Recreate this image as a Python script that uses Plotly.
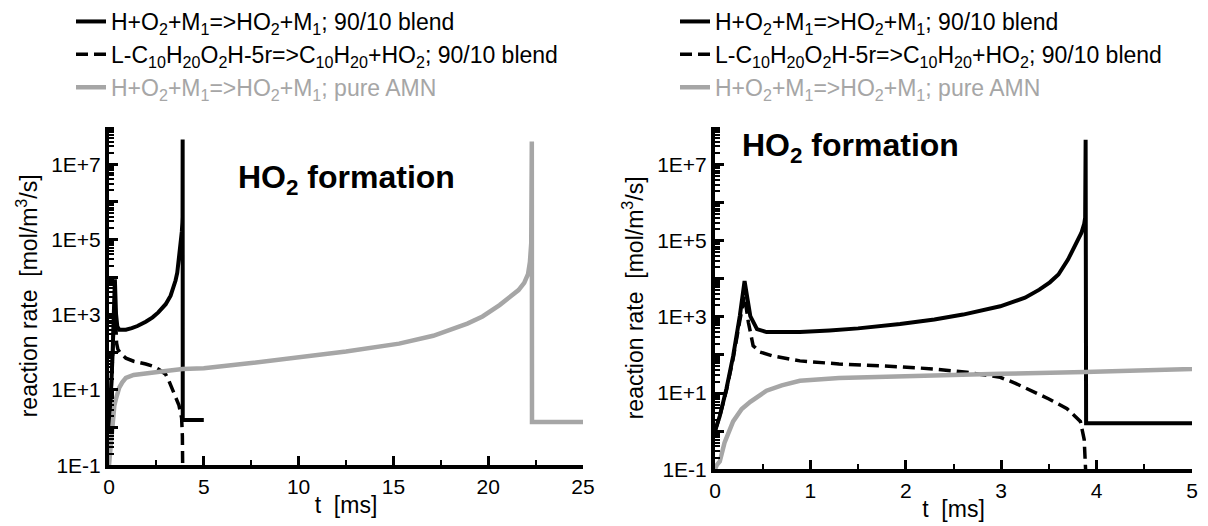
import plotly.graph_objects as go

# ---------------- data ----------------
# 90/10 blend, H+O2+M1=>HO2+M1  (t in ms, rate in mol/m3/s)
T_HO2_BLEND = [0, 0.05, 0.12, 0.19, 0.26, 0.31, 0.37, 0.44, 0.54, 0.7, 0.89, 1.2, 1.5,
               1.94, 2.3, 2.6, 2.99, 3.25, 3.4, 3.51, 3.6, 3.7, 3.75, 3.8, 3.84, 3.87,
               3.88, 3.885, 3.89, 5.0]
R_HO2_BLEND = [1.0, 2.5, 13, 93, 1050, 8700, 1050, 480, 400, 390, 400, 440, 500,
               650, 850, 1150, 1900, 3200, 5200, 8100, 1.3e4, 3.2e4, 5.9e4, 1.0e5, 1.6e5, 2.8e5,
               4.0e5, 4.5e7, 1.6, 1.6]

# 90/10 blend, L-C10H20O2H-5r=>C10H20+HO2
T_DECOMP_BLEND = [0, 0.05, 0.12, 0.19, 0.26, 0.31, 0.35, 0.40, 0.47, 0.6, 0.89, 1.3, 1.94,
                  2.29, 2.64, 2.99, 3.15, 3.33, 3.5, 3.69, 3.83, 3.87, 3.89]
R_DECOMP_BLEND = [1.0, 2.5, 12, 80, 800, 3500, 720, 175, 120, 95, 70, 58, 49,
                  43, 35, 26, 18, 11, 7, 3.9, 1.8, 0.6, 0.05]

# pure AMN, H+O2+M1=>HO2+M1
T_HO2_AMN = [0, 0.02, 0.05, 0.1, 0.19, 0.28, 0.37, 0.54, 0.7, 0.89, 1.3, 1.94, 2.99, 3.88,
             5.0, 7.5, 10.0, 12.5, 15.3, 17.1, 18.9, 19.7, 20.6, 21.2, 21.6, 21.9, 22.1,
             22.2, 22.27, 22.3, 22.31, 25.0]
R_HO2_AMN = [0.1, 0.13, 0.16, 0.5, 1.8, 3.8, 5.9, 11.5, 16, 21, 25, 28, 32, 36,
             38, 52, 72, 105, 170, 275, 580, 900, 1800, 3000, 4500, 7000, 1.2e4,
             2.5e4, 8.0e4, 4.0e7, 1.4, 1.4]

LEG_BLEND_HO2 = "H+O<sub>2</sub>+M<sub>1</sub>=>HO<sub>2</sub>+M<sub>1</sub>; 90/10 blend"
LEG_BLEND_DEC = ("L-C<sub>10</sub>H<sub>20</sub>O<sub>2</sub>H-5r=>C<sub>10</sub>H<sub>20</sub>"
                 "+HO<sub>2</sub>; 90/10 blend")
LEG_AMN_HO2 = ('<span style="color:#a6a6a6">H+O<sub>2</sub>+M<sub>1</sub>=>HO<sub>2</sub>'
               '+M<sub>1</sub>; pure AMN</span>')

Y_TICK_VALS = [1e-1, 1e0, 1e1, 1e2, 1e3, 1e4, 1e5, 1e6, 1e7, 1e8]
Y_TICK_TEXT = ["1E-1", "", "1E+1", "", "1E+3", "", "1E+5", "", "1E+7", ""]
X_LEFT_TICKS = [0, 5, 10, 15, 20, 25]
X_RIGHT_TICKS = [0, 1, 2, 3, 4, 5]

FONT = "Liberation Sans, Arial, sans-serif"
GRAY = "#a6a6a6"

fig = go.Figure()

def add_panel(xa, ya, leg):
    fig.add_trace(go.Scatter(x=T_HO2_BLEND, y=R_HO2_BLEND, mode="lines", name=LEG_BLEND_HO2,
                             line=dict(color="black", width=4), xaxis=xa, yaxis=ya,
                             legend=leg, legendgroup=leg + "a", legendrank=1))
    fig.add_trace(go.Scatter(x=T_DECOMP_BLEND, y=R_DECOMP_BLEND, mode="lines", name=LEG_BLEND_DEC,
                             line=dict(color="black", width=3.5, dash="12px,6px"), xaxis=xa, yaxis=ya,
                             legend=leg, legendgroup=leg + "b", legendrank=2))
    fig.add_trace(go.Scatter(x=T_HO2_AMN, y=R_HO2_AMN, mode="lines", name=LEG_AMN_HO2,
                             line=dict(color=GRAY, width=4.5), xaxis=xa, yaxis=ya,
                             legend=leg, legendgroup=leg + "c", legendrank=3))

add_panel("x", "y", "legend")
add_panel("x2", "y2", "legend2")

minor_y = [m * 10.0 ** d for d in range(-1, 8) for m in range(2, 10)]

W, H = 1208, 526

def yaxis(top_px, bot_px, anchor):
    return dict(type="log", range=[-1, 8], domain=[(H - bot_px) / H, (H - top_px) / H],
                anchor=anchor, showline=True, linewidth=4, linecolor="black", mirror=False,
                showgrid=False, zeroline=False, ticks="inside", ticklen=9, tickwidth=3,
                tickcolor="black", tickmode="array", tickvals=Y_TICK_VALS, ticktext=Y_TICK_TEXT,
                minor=dict(ticks="inside", ticklen=5, tickwidth=2, tickcolor="black",
                           tickmode="array", tickvals=minor_y, showgrid=False),
                tickfont=dict(family=FONT, size=21, color="black"),
                title=dict(text="reaction rate\u00a0 [mol/m<sup>3</sup>/s]",
                           font=dict(family=FONT, size=23, color="black"), standoff=8),
                automargin=False)

def xaxis(l_px, r_px, rng, ticks, dminor, anchor):
    return dict(range=rng, domain=[l_px / W, r_px / W], anchor=anchor,
                showline=True, linewidth=4, linecolor="black", showgrid=False, zeroline=False,
                ticks="inside", ticklen=9, tickwidth=3, tickcolor="black",
                tickmode="array", tickvals=ticks,
                minor=dict(ticks="inside", ticklen=5, tickwidth=2, tickcolor="black",
                           dtick=dminor, showgrid=False),
                tickfont=dict(family=FONT, size=21, color="black"),
                title=dict(text="t\u00a0 [ms]", font=dict(family=FONT, size=23, color="black"),
                           standoff=0),
                automargin=False)

fig.update_layout(
    width=W, height=H,
    margin=dict(l=0, r=0, t=0, b=0),
    paper_bgcolor="white", plot_bgcolor="white",
    font=dict(family=FONT, color="black"),
    xaxis=xaxis(109, 583, [0, 25], X_LEFT_TICKS, 2.5, "y"),
    yaxis=yaxis(125, 465, "x"),
    xaxis2=xaxis(715, 1192, [0, 5], X_RIGHT_TICKS, 0.5, "y2"),
    yaxis2=yaxis(125, 469, "x2"),
    legend=dict(x=71 / W, y=1.004, xanchor="left", yanchor="top", bgcolor="rgba(0,0,0,0)",
                font=dict(family=FONT, size=23, color="black"), tracegroupgap=1,
                traceorder="normal"),
    legend2=dict(x=675 / W, y=1.004, xanchor="left", yanchor="top", bgcolor="rgba(0,0,0,0)",
                 font=dict(family=FONT, size=23, color="black"), tracegroupgap=1,
                 traceorder="normal"),
    annotations=[
        dict(text="<b>HO<sub>2</sub> formation</b>", xref="x domain", yref="y domain",
             x=0.268, y=0.91, xanchor="left", yanchor="top", showarrow=False,
             font=dict(family=FONT, size=32, color="black")),
        dict(text="<b>HO<sub>2</sub> formation</b>", xref="x2 domain", yref="y2 domain",
             x=0.053, y=1.005, xanchor="left", yanchor="top", showarrow=False,
             font=dict(family=FONT, size=32, color="black")),
    ],
)

fig.write_html("out.html", config={"displayModeBar": False},
               post_script="document.body.style.margin='0px';document.body.style.overflow='hidden';")
